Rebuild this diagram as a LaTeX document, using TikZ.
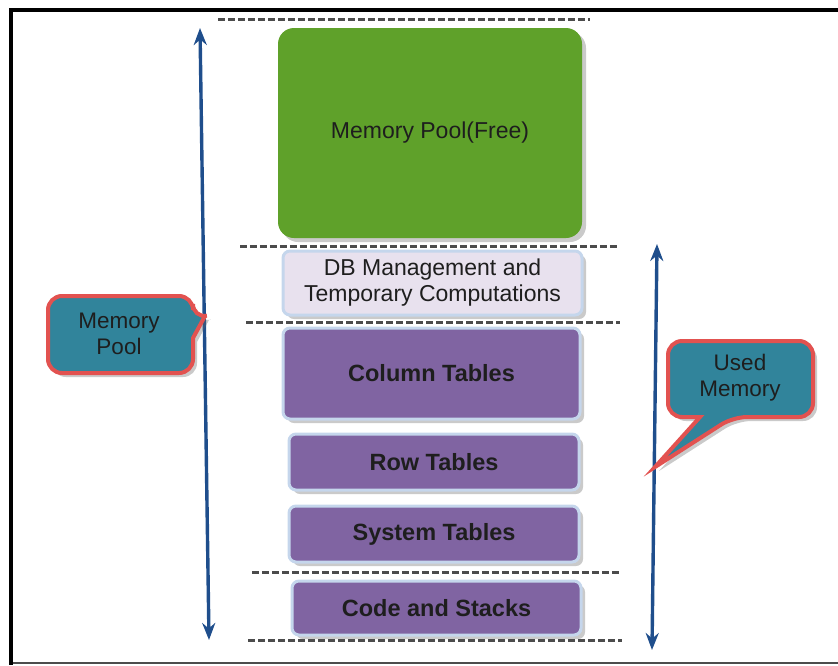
\documentclass[tikz,border=0pt]{standalone}
\usepackage{fontspec}
\setmainfont{Liberation Sans}
\usetikzlibrary{shadows,arrows.meta}
\definecolor{poolgreen}{RGB}{95,161,42}
\definecolor{tabpurple}{RGB}{128,100,162}
\definecolor{tabedge}{RGB}{197,214,236}
\definecolor{dblav}{RGB}{232,225,238}
\definecolor{calloutteal}{RGB}{49,132,155}
\definecolor{calloutred}{RGB}{226,82,80}
\definecolor{arrowblue}{RGB}{31,78,140}
\definecolor{txtdark}{RGB}{30,30,30}
\tikzset{
  boxshadow/.style={drop shadow={shadow xshift=4pt,shadow yshift=-4pt,opacity=0.35,fill=black!60}},
  tabbox/.style={draw=tabedge,line width=3pt,fill=tabpurple,rounded corners=7pt,boxshadow,
    font=\fontsize{23.5}{27}\selectfont\bfseries,text=txtdark},
  level/.style={draw=black!70,line width=3pt,dash pattern=on 7pt off 3pt},
  span/.style={draw=arrowblue,line width=3.4pt,{Stealth[length=17pt,width=13pt]}-{Stealth[length=17pt,width=13pt]}},
  callout/.style={draw=calloutred,line width=4pt,fill=calloutteal,rounded corners=14pt,boxshadow},
  callouttext/.style={font=\fontsize{22.5}{26}\selectfont,text=txtdark,align=center}
}
\begin{document}
\begin{tikzpicture}[x=1pt,y=-1pt]
\useasboundingbox (0,0) rectangle (838,665);
% frame
\draw[line width=4pt] (838,10) -- (11,10) -- (11,665);
\draw[line width=1.2pt,black!70] (13,663) -- (838,663);
% level lines
\draw[level] (218,19) -- (590,19);
\draw[level] (240,246) -- (617,246);
\draw[level] (246,322) -- (620,322);
\draw[level] (252,572) -- (622,572);
\draw[level] (248,640) -- (622,640);
% memory blocks
\node[draw=none,fill=poolgreen,rounded corners=16pt,boxshadow,minimum width=304pt,minimum height=210pt,
  font=\fontsize{23}{26}\selectfont,text=txtdark] (free) at (430,133) {Memory Pool(Free)};
\node[tabbox,fill=dblav,font=\fontsize{23}{26}\selectfont,align=center,minimum width=299pt,minimum height=64pt]
  (dbm) at (432.5,283) {DB Management and\\Temporary Computations};
\node[tabbox,minimum width=297pt,minimum height=91pt] (coltab) at (431.5,373.5) {Column Tables};
\node[tabbox,minimum width=290pt,minimum height=56pt] (rowtab) at (434,462) {Row Tables};
\node[tabbox,minimum width=290pt,minimum height=56pt] (systab) at (434,534) {System Tables};
\node[tabbox,minimum width=289pt,minimum height=54pt] (code) at (436.5,608) {Code and Stacks};
% spans
\coordinate (pooltop) at (200,28);
\coordinate (poolbot) at (209,640);
\coordinate (usedtop) at (657,244);
\coordinate (usedbot) at (652,650);
\draw[span] (pooltop) -- (poolbot);
\draw[span] (usedtop) -- (usedbot);
% callouts
\draw[callout] (120,296) -- (193,296) -- (193,318) [sharp corners] -- (205,316) -- (193,338)
  [rounded corners=14pt] -- (193,373) -- (48,373) -- (48,296) -- cycle;
\node[callouttext] (pooltxt) at (119,334) {Memory\\Pool};
\draw[callout] (740,341) -- (813,341) -- (813,417) -- (733,417) [sharp corners] -- (655,467) -- (700,417)
  [rounded corners=14pt] -- (668,417) -- (668,341) -- cycle;
\node[callouttext] (usedtxt) at (740,378) {Used\\Memory};
\end{tikzpicture}
\end{document}
